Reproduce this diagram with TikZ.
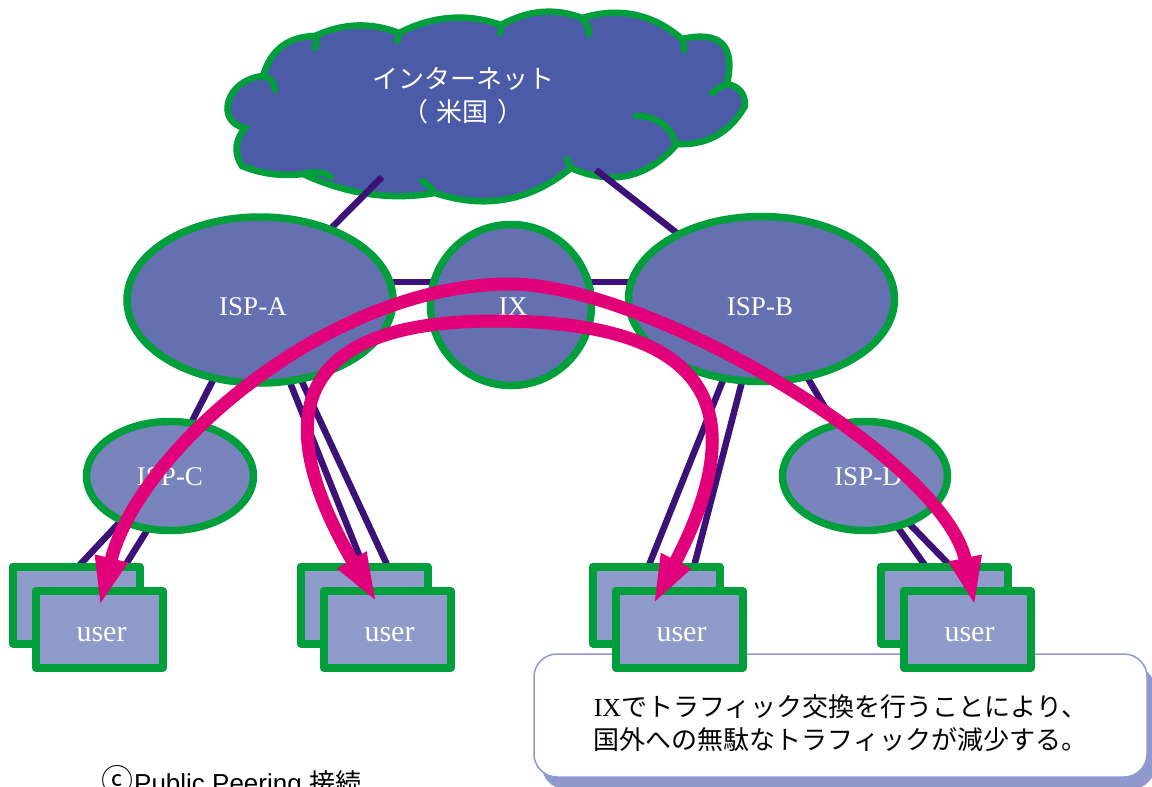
\documentclass[tikz,border=0pt]{standalone}
\usepackage{fontspec}
\setmainfont{Liberation Serif}
\newfontfamily\jpfont{Noto Sans CJK JP}
\newfontfamily\sansfont{Liberation Sans}
\usetikzlibrary{arrows.meta,calc,shapes.geometric,shadows}

\definecolor{netgreen}{HTML}{009F3C}
\definecolor{cloudblue}{HTML}{4C5BA7}
\definecolor{ispblue}{HTML}{6470B0}
\definecolor{subblue}{HTML}{7984BC}
\definecolor{userblue}{HTML}{8F9BCB}
\definecolor{linkpurple}{HTML}{3D1278}
\definecolor{flowpink}{HTML}{E2007A}
\definecolor{noteedge}{HTML}{8E9AD4}
\definecolor{noteshadow}{HTML}{8F99CC}

\pgfdeclarelayer{back}
\pgfdeclarelayer{links}
\pgfsetlayers{back,links,main}

\begin{document}
\begin{tikzpicture}[x=1pt,y=-1pt,line join=round,
  cloudline/.style={draw=netgreen,line width=6.5pt,line cap=round},
  isp/.style={ellipse,draw=netgreen,line width=7.5pt,fill=ispblue,inner sep=0pt},
  subisp/.style={isp,fill=subblue},
  tag/.style={text=white,inner sep=0pt,font=\fontsize{27}{27}\selectfont},
  usertag/.style={text=white,inner sep=0pt,font=\fontsize{30}{30}\selectfont},
  userbox/.style={rectangle,draw=netgreen,line width=8pt,fill=userblue,
    minimum width=127pt,minimum height=77pt,inner sep=0pt},
  link/.style={draw=linkpurple,line width=6.5pt},
  intobox/.style={link,shorten >=-10pt},
  flow/.style={draw=flowpink,line width=13pt,<->,
    >={Triangle[width=30pt,length=50pt]}},
  callout/.style={rectangle,draw=noteedge,line width=1.5pt,fill=white,
    rounded corners=23pt,minimum width=613pt,minimum height=123pt,
    drop shadow={shadow xshift=8pt,shadow yshift=-12pt,fill=noteshadow,opacity=1}},
  notetext/.style={align=left,inner sep=0pt,text=black,font=\jpfont\fontsize{26}{33}\selectfont}
]
\useasboundingbox (0,0) rectangle (1152,787);
\clip (0,0) rectangle (1152,787);

% ---- the Internet cloud ----
\begin{pgfonlayer}{back}
\filldraw[cloudline,fill=cloudblue]
 (242,166) .. controls (233.7,153.3) and (234.7,140.7) .. (245,128)
 .. controls (215,122) and (225,80) .. (263,76)
 .. controls (270.5,50) and (287.9,36.6) .. (315,36)
 .. controls (343,23) and (371,22) .. (399,33)
 .. controls (433,15.6) and (467,13) .. (501,25)
 .. controls (528,10) and (555,7.6) .. (582,18)
 .. controls (619.2,6.7) and (652.6,13.7) .. (682,39)
 .. controls (720.6,30.4) and (735.6,45.4) .. (727,84)
 .. controls (739.2,86.3) and (745.2,93.7) .. (745,106)
 .. controls (729.8,132.8) and (707.2,145.4) .. (677,144)
 .. controls (647.6,178) and (612.2,186) .. (571,168)
 .. controls (530.3,201.2) and (484.9,209.6) .. (435,193)
 .. controls (389.1,200.9) and (345.1,193.5) .. (303,174)
 .. controls (282,176.6) and (261.6,174) .. cycle;
% inner strokes of the cloud
\draw[cloudline] (263,76) .. controls (270,78) and (274,82) .. (275,90);
\draw[cloudline] (315,36) .. controls (317,40) and (317,44) .. (315,48);
\draw[cloudline] (399,33) .. controls (399,36) and (398,38) .. (397,41);
\draw[cloudline] (501,25) .. controls (501,28) and (501,30) .. (500,33);
\draw[cloudline] (582,18) .. controls (586,22) and (589,28) .. (589,34);
\draw[cloudline] (682,39) .. controls (684,42) and (684,46) .. (684,50);
\draw[cloudline] (727,84) .. controls (722,86) and (717,89) .. (712,93);
\draw[cloudline] (636,116) .. controls (655,115) and (672,128) .. (675,142);
\draw[cloudline] (571,168) .. controls (569,165) and (568,162) .. (567,159);
\draw[cloudline] (435,193) .. controls (431,188) and (427,184) .. (422,181);
\draw[cloudline] (303,174) .. controls (315,171) and (325,172) .. (331,177);

% ---- explanation box ----
\node[callout,label={[notetext,yshift=-8pt]center:{\rmfamily IX}でトラフィック交換を行うことにより、\\国外への無駄なトラフィックが減少する。}] (note) at (840.5,715.5) {};
\end{pgfonlayer}

\node[text=white,align=center,font=\jpfont\fontsize{26}{33}\selectfont] (inet) at (463,96)
  {インターネット\\（\kern9pt 米国\kern9pt ）};
\coordinate (inetA) at (382,177);
\coordinate (inetB) at (596,170);

% ---- providers and exchange ----
\node[isp,minimum width=266pt,minimum height=166pt,
  label={[tag,xshift=-7pt,yshift=-7pt]center:ISP-A}] (ispa) at (260,300) {};
\node[isp,minimum width=161pt,minimum height=161pt,
  label={[tag,xshift=2pt,yshift=-2pt]center:IX}] (ix) at (511,305) {};
\node[isp,minimum width=266pt,minimum height=165pt,
  label={[tag,xshift=-1.5pt,yshift=-8pt]center:ISP-B}] (ispb) at (761.5,299) {};
\node[subisp,minimum width=167pt,minimum height=109pt,
  label={[tag,yshift=-1pt]center:ISP-C}] (ispc) at (170,476) {};
\node[subisp,minimum width=165pt,minimum height=109pt,
  label={[tag,xshift=3pt,yshift=-1pt]center:ISP-D}] (ispd) at (865,476) {};

% ---- user groups ----
\foreach \L [count=\n] in {9,297,589,877} {
  \node[userbox] (ub\n) at (\L+67,605) {};
  \node[userbox,label={[usertag,xshift=2.5pt,yshift=-5.5pt]center:user}] (uf\n) at (\L+90,629.5) {};
}

% ---- physical links ----
\begin{pgfonlayer}{links}
\draw[link] (inetA) -- (ispa.center);
\draw[link] (inetB) -- (ispb.center);
\draw[link] ($(ispa.center)+(0,-18)$) -- ($(ix.center)+(0,-23)$);
\draw[link] ($(ix.center)+(0,-23)$) -- ($(ispb.center)+(0,-17)$);
\draw[link] ($(ispa.center)+(-6,0)$) -- ($(ispc.center)+(-6,0)$);
\draw[link] (ispb.center) -- (ispd.center);
\draw[intobox] ($(ispc.center)+(-7,0)$) -- ($(ub1.north)+(6,0)$);
\draw[intobox] ($(ispc.center)+(11,0)$) -- ($(ub1.north)+(51,0)$);
\draw[intobox] ($(ispa.center)+(-3,0)$) -- ($(ub2.north)+(-2,0)$);
\draw[intobox] ($(ispa.center)+(4,0)$) -- ($(ub2.north)+(22,0)$);
\draw[intobox] ($(ispb.center)+(-6,0)$) -- ($(ub3.north)+(-6,0)$);
\draw[intobox] ($(ispb.center)+(2,0)$) -- ($(ub3.north)+(39,0)$);
\draw[intobox] ($(ispd.center)+(-4,0)$) -- ($(ub4.north)+(-21,0)$);
\draw[intobox] ($(ispd.center)+(-2,0)$) -- ($(ub4.north)+(3,0)$);
\end{pgfonlayer}

% ---- traffic flows ----
\coordinate (t1) at ($(uf1.center)+(0.5,-22.5)$);
\coordinate (t2) at ($(uf2.center)+(-10,-26.5)$);
\coordinate (t3) at ($(uf3.center)+(-26,-24.5)$);
\coordinate (t4) at ($(uf4.center)+(8,-22.5)$);
\draw[flow] (t1) .. controls (138,450) and (330,284) .. (510,284)
                 .. controls (650,284) and (945,460) .. (t4);
\draw[flow] (t2) .. controls (270,420) and (290,321) .. (495,321)
                 .. controls (700,321) and (760,400) .. (t3);

% ---- caption ----
\node[anchor=base west,inner sep=0pt,font=\fontsize{26}{26}\selectfont] (caption) at (101,792)
  {{\jpfont\fontsize{32}{32}\selectfont ⓒ}\kern1pt{\sansfont Public Peering }{\jpfont 接続}};
\end{tikzpicture}
\end{document}
